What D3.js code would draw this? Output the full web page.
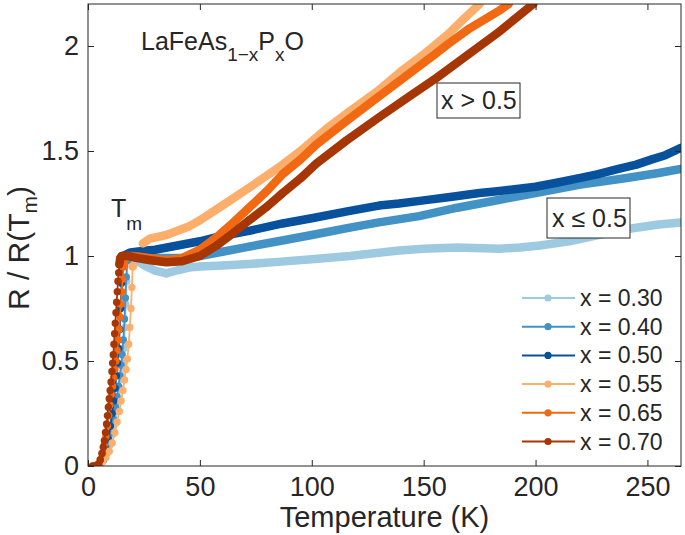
<!DOCTYPE html>
<html><head><meta charset="utf-8">
<script src="https://cdn.jsdelivr.net/npm/d3@7"></script>
<style>
body{margin:0;background:#fff}
text{font-family:"Liberation Sans",Arial,Helvetica,sans-serif;fill:#262626}
</style>
</head><body>
<svg id="chart" width="685" height="535"></svg>
<script>
// ---------------- data ----------------
const seriesLabels = ["x = 0.30", "x = 0.40", "x = 0.50", "x = 0.55", "x = 0.65", "x = 0.70"];
const seriesColors = ["#9ecae1", "#4292c6", "#08519c", "#fdae6b", "#f16913", "#a63603"];

const T_030 = [4, 5.5, 7, 8.5, 9.8, 11, 12, 12.9, 13.6, 14.3, 14.9, 15.5, 16, 16.5, 16.9, 17.3, 17.8,
  20, 23, 26, 30, 35, 40, 45, 50, 60, 72, 85, 100, 117, 130, 139, 150, 165, 184, 193, 202, 215, 228, 242, 255, 265];
const R_030 = [0, 0.01, 0.03, 0.06, 0.1, 0.15, 0.2, 0.26, 0.31, 0.37, 0.43, 0.49, 0.56, 0.66, 0.77, 0.88, 0.98,
  0.99, 0.97, 0.95, 0.93, 0.917, 0.932, 0.945, 0.95, 0.955, 0.962, 0.972, 0.985, 1.0, 1.015, 1.026, 1.035, 1.04, 1.035, 1.04, 1.05, 1.07, 1.1, 1.13, 1.15, 1.16];

const T_040 = [4, 5.5, 7, 8.5, 9.5, 10.5, 11.5, 12.3, 13, 13.6, 14.2, 14.8, 15.3, 15.8, 16.3, 16.7, 17.1, 17.5,
  18.5, 22, 27, 35, 42, 50, 60, 72, 85, 100, 117, 130, 148, 165, 184, 200, 220, 240, 255, 265];
const R_040 = [0, 0.01, 0.03, 0.07, 0.11, 0.16, 0.22, 0.28, 0.33, 0.38, 0.43, 0.48, 0.53, 0.6, 0.7, 0.8, 0.9, 0.98,
  1.0, 0.995, 0.99, 0.99, 0.99, 1.0, 1.02, 1.045, 1.07, 1.1, 1.135, 1.16, 1.19, 1.23, 1.268, 1.3, 1.34, 1.37, 1.395, 1.415];

const T_050 = [3.5, 5, 6.5, 8, 9, 10, 10.8, 11.5, 12.1, 12.7, 13.2, 13.7, 14.2, 14.6, 15, 15.5,
  19, 25, 30, 40, 50, 57.5, 72, 87, 100, 117, 130, 139, 150, 161, 175, 184, 200, 210, 219, 228, 237, 245, 252, 258, 265];
const R_050 = [0, 0.01, 0.04, 0.08, 0.13, 0.19, 0.25, 0.31, 0.37, 0.43, 0.49, 0.56, 0.65, 0.75, 0.87, 1.0,
  1.017, 1.025, 1.03, 1.05, 1.07, 1.09, 1.12, 1.155, 1.18, 1.215, 1.24, 1.25, 1.265, 1.28, 1.3, 1.31, 1.33, 1.35, 1.37, 1.39, 1.415, 1.435, 1.46, 1.48, 1.515];

const T_055 = [5, 6.5, 8, 9.5, 10.8, 12, 13, 14, 14.8, 15.6, 16.3, 17, 17.6, 18.2, 18.7, 19.2, 19.6, 20.0, 22,
  24.5, 27.7, 35, 40, 45, 50, 60, 72, 85, 95, 107, 117, 130, 140, 150, 161, 168, 175];
const R_055 = [0, 0.02, 0.04, 0.07, 0.11, 0.16, 0.21, 0.26, 0.31, 0.36, 0.41, 0.46, 0.51, 0.58, 0.66, 0.75, 0.85, 0.95, null,
  1.06, 1.083, 1.1, 1.12, 1.14, 1.17, 1.24, 1.325, 1.42, 1.5, 1.61, 1.69, 1.79, 1.88, 1.96, 2.057, 2.13, 2.2];

const T_065 = [3.5, 4.5, 5.5, 6.5, 7.3, 8, 8.7, 9.3, 9.9, 10.5, 11, 11.5, 12, 12.5, 13, 13.5, 13.9, 14.3, 14.7, 15.1, 15.5, 15.9, 16.3,
  17, 20, 24, 28, 35, 42, 50, 57.5, 65, 72, 80, 87, 95, 102, 114, 125, 140, 155, 161, 170, 184, 188];
const R_065 = [0, 0.01, 0.03, 0.06, 0.1, 0.14, 0.19, 0.24, 0.29, 0.34, 0.38, 0.42, 0.46, 0.5, 0.55, 0.6, 0.65, 0.71, 0.77, 0.83, 0.89, 0.95, 0.99,
  1.0, 1.0, 0.995, 0.99, 0.98, 0.99, 1.03, 1.09, 1.16, 1.23, 1.31, 1.39, 1.46, 1.53, 1.63, 1.72, 1.84, 1.96, 2.01, 2.08, 2.17, 2.2];

const T_070 = [2, 2.8, 3.4, 4, 4.8, 5.5, 6.2, 6.8, 7.3, 7.8, 8.3, 8.7, 9.1, 9.5, 9.9, 10.3, 10.7, 11, 11.3, 11.6, 11.9, 12.2, 12.5, 12.8, 13.1, 13.4, 13.7, 14, 14.4,
  15, 18, 22, 28, 35, 42, 50, 57.5, 65, 72, 80, 87, 95, 102, 115.5, 130, 145, 156, 170, 184, 199];
const R_070 = [0, 0, 0, 0, 0.01, 0.03, 0.06, 0.09, 0.12, 0.16, 0.2, 0.24, 0.28, 0.32, 0.36, 0.4, 0.45, 0.49, 0.53, 0.58, 0.63, 0.68, 0.73, 0.78, 0.83, 0.88, 0.92, 0.96, 0.99,
  1.0, 1.0, 0.99, 0.98, 0.97, 0.975, 1.0, 1.05, 1.11, 1.17, 1.235, 1.3, 1.37, 1.44, 1.55, 1.66, 1.77, 1.85, 1.96, 2.07, 2.2];

const xTicks = [0, 50, 100, 150, 200, 250];
const yTicks = [0, 0.5, 1, 1.5, 2];
const xDomain = [0, 265];
const yDomain = [0, 2.2];

const seriesT = [T_030, T_040, T_050, T_055, T_065, T_070];
const seriesR = [R_030, R_040, R_050, R_055, R_065, R_070];

// ---------------- drawing ----------------
const W = 685, H = 535;
const m = {l: 88, r: 4, t: 4, b: 69};
const svg = d3.select("#chart");
const x = d3.scaleLinear().domain(xDomain).range([m.l, W - m.r]);
const y = d3.scaleLinear().domain(yDomain).range([H - m.b, m.t]);
const axisColor = "#262626";

svg.append("defs").append("clipPath").attr("id", "clip")
  .append("rect").attr("x", m.l).attr("y", m.t).attr("width", W - m.l - m.r).attr("height", H - m.t - m.b);

const plot = svg.append("g").attr("clip-path", "url(#clip)");
const line = d3.line().defined(d => d.r != null).x(d => x(d.t)).y(d => y(d.r));

seriesT.forEach((Ts, i) => {
  const pts = Ts.map((t, j) => ({t, r: seriesR[i][j]}));
  const c = seriesColors[i];
  const g = plot.append("g");
  g.append("path").datum(pts).attr("d", line)
    .attr("fill", "none").attr("stroke", c).attr("stroke-width", 1.8);
  const k = pts.findIndex(d => d.r != null && d.r >= 0.95);
  g.append("path").datum(pts.slice(k)).attr("d", line)
    .attr("fill", "none").attr("stroke", c).attr("stroke-width", 8.5)
    .attr("stroke-linecap", "round").attr("stroke-linejoin", "round");
  g.selectAll("circle").data(pts.filter(d => d.r != null)).join("circle")
    .attr("cx", d => x(d.t)).attr("cy", d => y(d.r)).attr("r", 3.7).attr("fill", c);
});

// axes
function styleAxis(g) {
  g.select(".domain").remove();
  g.selectAll(".tick line").attr("stroke", axisColor).attr("stroke-width", 1);
  g.selectAll(".tick text").attr("fill", axisColor).style("font-size", "27px")
    .style("font-family", '"Liberation Sans", Arial, Helvetica, sans-serif');
}
svg.append("g").attr("transform", `translate(0,${H - m.b})`)
  .call(d3.axisBottom(x).tickValues(xTicks).tickSizeInner(-6).tickSizeOuter(0).tickPadding(11).tickFormat(d3.format("~g")))
  .call(styleAxis);
svg.append("g").attr("transform", `translate(0,${m.t})`)
  .call(d3.axisTop(x).tickValues(xTicks).tickSizeInner(-6).tickSizeOuter(0).tickFormat(""))
  .call(styleAxis);
svg.append("g").attr("transform", `translate(${m.l},0)`)
  .call(d3.axisLeft(y).tickValues(yTicks).tickSizeInner(-6).tickSizeOuter(0).tickPadding(9).tickFormat(d3.format("~g")))
  .call(styleAxis);
svg.append("g").attr("transform", `translate(${W - m.r},0)`)
  .call(d3.axisRight(y).tickValues(yTicks).tickSizeInner(-6).tickSizeOuter(0).tickFormat(""))
  .call(styleAxis);

svg.append("rect").attr("x", m.l).attr("y", m.t).attr("width", W - m.l - m.r).attr("height", H - m.t - m.b)
  .attr("fill", "none").attr("stroke", axisColor).attr("stroke-width", 1);

// axis labels
svg.append("text").attr("x", (m.l + W - m.r) / 2).attr("y", 527).attr("text-anchor", "middle")
  .style("font-size", "29px").text("Temperature (K)");
const yl = svg.append("text").attr("transform", "translate(29,248) rotate(-90)").attr("text-anchor", "middle")
  .style("font-size", "30px");
yl.append("tspan").text("R / R(T");
yl.append("tspan").attr("dy", 8).style("font-size", "21px").text("m");
yl.append("tspan").attr("dy", -8).text(")");

// compound label
const f = svg.append("text").attr("x", 141).attr("y", 50).style("font-size", "25px");
f.append("tspan").text("LaFeAs");
f.append("tspan").attr("dy", 11).style("font-size", "19px").text("1\u2212x");
f.append("tspan").attr("dy", -11).text("P");
f.append("tspan").attr("dy", 11).style("font-size", "19px").text("x");
f.append("tspan").attr("dy", -11).text("O");

// T_m label
const tm = svg.append("text").attr("x", 111).attr("y", 217).style("font-size", "25px");
tm.append("tspan").text("T");
tm.append("tspan").attr("dy", 13).style("font-size", "19px").text("m");

// boxed annotations
function boxLabel(bx, by, bw, bh, tx, ty, txt) {
  svg.append("rect").attr("x", bx).attr("y", by).attr("width", bw).attr("height", bh)
    .attr("fill", "#fff").attr("stroke", axisColor).attr("stroke-width", 1);
  svg.append("text").attr("x", tx).attr("y", ty).style("font-size", "25px").text(txt);
}
boxLabel(437, 83, 83, 35, 441, 109, "x > 0.5");
boxLabel(547, 198, 83, 40, 552, 227, "x \u2264 0.5");

// legend
const lg = svg.append("g");
seriesLabels.forEach((lab, i) => {
  const cy = 298 + i * 28.7;
  lg.append("line").attr("x1", 522).attr("x2", 575).attr("y1", cy).attr("y2", cy)
    .attr("stroke", seriesColors[i]).attr("stroke-width", 2);
  lg.append("circle").attr("cx", 548).attr("cy", cy).attr("r", 3.6).attr("fill", seriesColors[i]);
  lg.append("text").attr("x", 580).attr("y", cy + 8).style("font-size", "23px").text(lab);
});
</script>
</body></html>
